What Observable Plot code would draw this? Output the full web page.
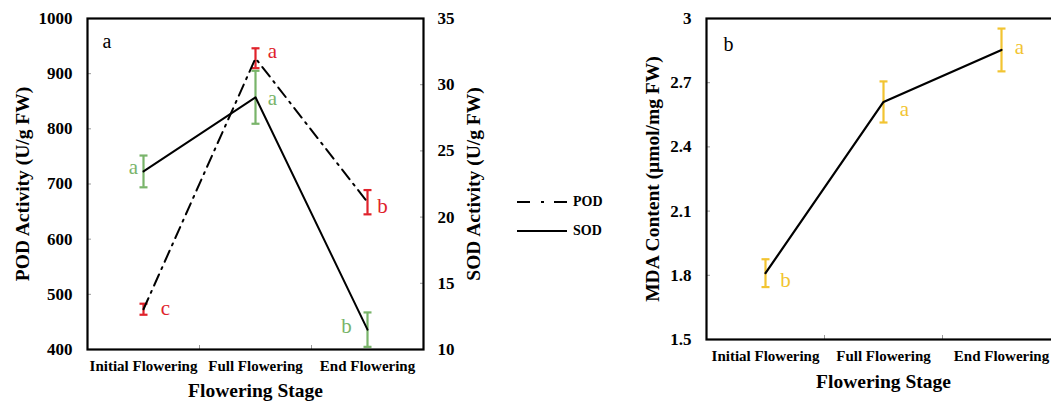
<!DOCTYPE html>
<html><head><meta charset="utf-8">
<script src="https://cdn.jsdelivr.net/npm/d3@7"></script>
<script src="https://cdn.jsdelivr.net/npm/@observablehq/plot@0.6"></script>
<style>
html,body{margin:0;padding:0;background:#fff;}
body{width:1051px;height:402px;overflow:hidden;position:relative;font-family:"Liberation Serif","Times New Roman",serif;}
#left{position:absolute;left:0;top:0;}
#right{position:absolute;left:600px;top:0;}
#legend{position:absolute;left:517px;top:187px;font-weight:bold;font-size:14px;color:#000;}
#legend .row{display:flex;align-items:center;height:29px;}
#legend svg{display:block;margin-right:6px;}
</style></head><body>
<div id="left"></div><div id="right"></div><div id="legend"></div>
<script>
// ---- data ----
const stages = ["Initial Flowering", "Full Flowering", "End Flowering"];
const podMean = [473, 928, 667];
const podSE = [10, 18, 22];
const podLetters = ["c", "a", "b"];
const sodMean = [23.45, 29.05, 11.5];
const sodSE = [1.2, 2.0, 1.3];
const sodLetters = ["a", "a", "b"];
const mdaMean = [1.81, 2.61, 2.853];
const mdaSE = [0.065, 0.096, 0.1];
const mdaLetters = ["b", "a", "a"];
const podTicks = [400, 500, 600, 700, 800, 900, 1000];
const sodTicks = [10, 15, 20, 25, 30, 35];
const mdaTicks = [1.5, 1.8, 2.1, 2.4, 2.7, 3.0];
const legendItems = ["POD", "SOD"];

// ---- styles ----
const RED = "#e0222b", GREEN = "#79b46a", GOLD = "#f2c431";
const FONT = '"Liberation Serif","Times New Roman",serif';
const TICK = "#9a9a9a";
const podDash = "12,6,2,6";
const LETTER_SIZE = 21;
// letter label offsets [dx, dy] in pixels
const podOff = [[22, -1], [17, -7], [15, 4]];
const sodOff = [[-10, -4], [17, 1], [-21, -3]];
const mdaOff = [[20, 7], [21, 7], [18, -3]];

const sodToPod = d3.scaleLinear().domain([10, 35]).range([400, 1000]);
const table = (means, ses, letters, f = v => v) => stages.map((stage, i) => ({
  stage, pos: i + 0.5, mean: means[i],
  yMean: f(means[i]), yLo: f(means[i] - ses[i]), yHi: f(means[i] + ses[i]),
  letter: letters[i]
}));
const pod = table(podMean, podSE, podLetters);
const sod = table(sodMean, sodSE, sodLetters, v => sodToPod(v));
const mda = table(mdaMean, mdaSE, mdaLetters);

const cap = {draw(ctx, size) { const w = Math.sqrt(size / Math.PI); ctx.moveTo(-w, 0); ctx.lineTo(w, 0); }};
const errorMarks = (data, color) => [
  Plot.ruleX(data, {x: "pos", y1: "yLo", y2: "yHi", stroke: color, strokeWidth: 2.2}),
  Plot.dot(data, {x: "pos", y: "yLo", symbol: cap, r: 4, stroke: color, strokeWidth: 2.2, fill: "none"}),
  Plot.dot(data, {x: "pos", y: "yHi", symbol: cap, r: 4, stroke: color, strokeWidth: 2.2, fill: "none"})
];
const letterMarks = (data, color, off) => data.map((d, i) =>
  Plot.text([d], {x: "pos", y: "yMean", text: "letter", dx: off[i][0], dy: off[i][1], fill: color, fontSize: LETTER_SIZE, fontFamily: FONT}));

const xAxes = () => [
  Plot.axisX(stages.map((s, i) => i + 0.5), {anchor: "bottom", tickSize: 0, tickPadding: 11,
    tickFormat: v => stages[Math.floor(v)], fontSize: 15, fontWeight: "bold", fontFamily: FONT, fill: "black", label: null}),
  Plot.axisX(d3.range(1, stages.length), {anchor: "bottom", tickSize: -4, tickFormat: () => "", stroke: TICK, label: null})
];
const title = (t, o) => Plot.text([t], {text: d => d, fontSize: 19.5, fontWeight: "bold", fontFamily: FONT, fill: "black", ...o});
const svgStyle = {fontFamily: FONT, fontSize: "17px", background: "transparent", maxWidth: "none", overflow: "visible"};

// ---- left panel ----
const left = Plot.plot({
  width: 600, height: 402,
  marginLeft: 87, marginRight: 177, marginTop: 18, marginBottom: 53,
  style: svgStyle,
  x: {type: "linear", domain: [0, stages.length], axis: null},
  y: {domain: [400, 1000], axis: null},
  marks: [
    Plot.axisY(podTicks, {anchor: "left", tickSize: -4, tickPadding: 19, tickFormat: d => String(d),
      stroke: TICK, fill: "black", fontSize: 17, fontWeight: "bold", fontFamily: FONT, label: null}),
    Plot.axisY(sodTicks.map(v => sodToPod(v)), {anchor: "right", tickSize: -4, tickPadding: 18,
      tickFormat: v => String(Math.round(sodToPod.invert(v))),
      stroke: TICK, fill: "black", fontSize: 17, fontWeight: "bold", fontFamily: FONT, label: null}),
    ...xAxes(),
    ...errorMarks(pod, RED),
    ...errorMarks(sod, GREEN),
    Plot.line(pod, {x: "pos", y: "yMean", stroke: "black", strokeWidth: 2, strokeDasharray: podDash}),
    Plot.line(sod, {x: "pos", y: "yMean", stroke: "black", strokeWidth: 2}),
    ...letterMarks(pod, RED, podOff),
    ...letterMarks(sod, GREEN, sodOff),
    Plot.frame({stroke: "black", strokeWidth: 2.2}),
    Plot.text(["a"], {text: d => d, frameAnchor: "top-left", dx: 15, dy: 15, fontSize: 20, fontFamily: FONT, fill: "black"}),
    title("Flowering Stage", {frameAnchor: "bottom", lineAnchor: "top", dy: 34}),
    title("POD Activity (U/g FW)", {frameAnchor: "left", rotate: -90, dx: -65, textAnchor: "middle", lineAnchor: "middle"}),
    title("SOD Activity (U/g FW)", {frameAnchor: "right", rotate: -90, dx: 50, textAnchor: "middle", lineAnchor: "middle"})
  ]
});
document.getElementById("left").append(left);

// ---- right panel ----
const right = Plot.plot({
  width: 460, height: 402,
  marginLeft: 106, marginRight: 0, marginTop: 18, marginBottom: 63,
  style: svgStyle,
  x: {type: "linear", domain: [0, stages.length], axis: null},
  y: {domain: [1.5, 3], axis: null},
  marks: [
    Plot.axisY(mdaTicks, {anchor: "left", tickSize: -4, tickPadding: 19, tickFormat: d => String(+d.toFixed(1)),
      stroke: TICK, fill: "black", fontSize: 17, fontWeight: "bold", fontFamily: FONT, label: null}),
    ...xAxes(),
    ...errorMarks(mda, GOLD),
    Plot.line(mda, {x: "pos", y: "yMean", stroke: "black", strokeWidth: 2.2}),
    ...letterMarks(mda, GOLD, mdaOff),
    Plot.frame({stroke: "black", strokeWidth: 2.2}),
    Plot.text(["b"], {text: d => d, frameAnchor: "top-left", dx: 17, dy: 18, fontSize: 20, fontFamily: FONT, fill: "black"}),
    title("Flowering Stage", {frameAnchor: "bottom", lineAnchor: "top", dy: 35}),
    title("MDA Content (μmol/mg FW)", {frameAnchor: "left", rotate: -90, dx: -54, textAnchor: "middle", lineAnchor: "middle"})
  ]
});
document.getElementById("right").append(right);

// ---- legend ----
const legendDash = {POD: "13,11,3,10", SOD: null};
const lg = document.getElementById("legend");
for (const name of legendItems) {
  const row = document.createElement("div");
  row.className = "row";
  const dash = legendDash[name];
  row.innerHTML = `<svg width="50" height="6"><line x1="0" y1="3" x2="50" y2="3" stroke="black" stroke-width="2.2"${dash ? ` stroke-dasharray="${dash}"` : ""}/></svg><span>${name}</span>`;
  lg.append(row);
}
</script>
</body></html>
